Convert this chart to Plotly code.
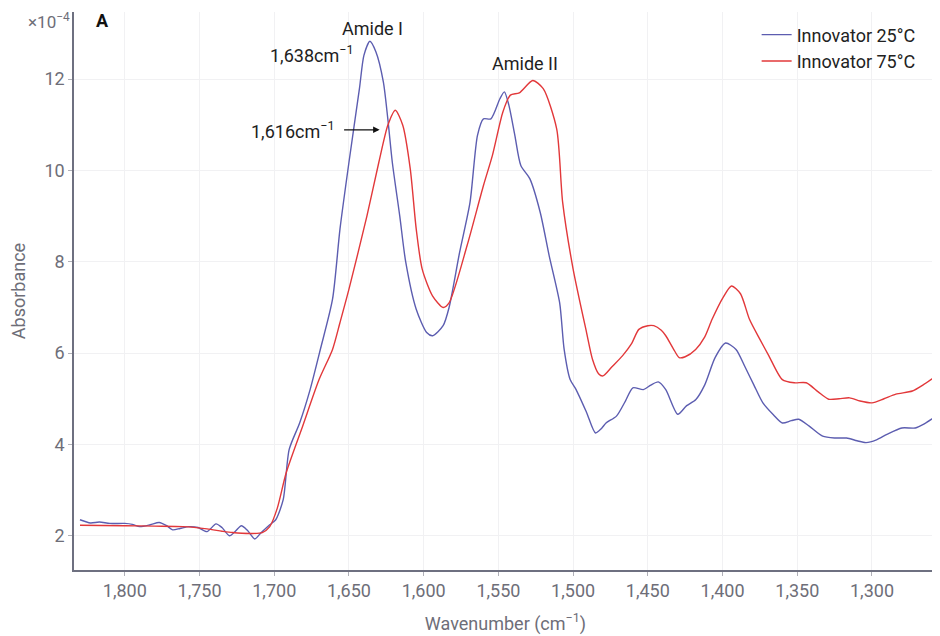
import plotly.graph_objects as go

# Wavenumber (cm^-1) and absorbance (x10^-4)
wn_25 = [1830, 1823, 1817, 1810, 1800, 1795, 1790, 1783, 1777, 1772, 1768, 1763, 1757, 1751, 1745,
         1739, 1735, 1730, 1726, 1722, 1718, 1713, 1709, 1703, 1699, 1694, 1690, 1683, 1676, 1669,
         1661, 1656, 1650, 1643, 1640, 1636, 1632, 1627, 1624, 1621, 1616, 1612, 1605, 1598, 1594,
         1587, 1583, 1576, 1569, 1564, 1560, 1555, 1549, 1546, 1543, 1539, 1535, 1529, 1522, 1516,
         1509, 1506, 1502, 1498, 1491, 1485, 1481, 1478, 1471, 1465, 1460, 1453, 1448, 1443, 1438,
         1430, 1424, 1418, 1412, 1405, 1398, 1391, 1385, 1379, 1373, 1366, 1360, 1354, 1349, 1342,
         1333, 1325, 1317, 1310, 1304, 1297, 1290, 1280, 1271, 1265, 1258]
abs_25 = [2.35, 2.28, 2.30, 2.27, 2.27, 2.25, 2.20, 2.24, 2.29, 2.22, 2.13, 2.16, 2.20, 2.18, 2.09,
          2.26, 2.18, 2.00, 2.10, 2.22, 2.12, 1.93, 2.06, 2.24, 2.35, 2.79, 3.89, 4.47, 5.20, 6.10,
          7.18, 8.72, 10.18, 11.79, 12.52, 12.83, 12.60, 11.94, 11.13, 10.18, 9.00, 7.99, 6.96, 6.45, 6.38,
          6.60, 7.00, 8.20, 9.30, 10.77, 11.13, 11.13, 11.57, 11.72, 11.43, 10.77, 10.11, 9.82, 9.08, 8.13,
          7.10, 6.08, 5.42, 5.20, 4.70, 4.25, 4.35, 4.47, 4.62, 4.95, 5.24, 5.20, 5.30, 5.37, 5.20,
          4.66, 4.85, 4.98, 5.30, 5.90, 6.22, 6.08, 5.70, 5.30, 4.91, 4.65, 4.47, 4.52, 4.55, 4.40,
          4.18, 4.14, 4.14, 4.08, 4.04, 4.10, 4.22, 4.36, 4.36, 4.45, 4.60]

wn_75 = [1830, 1800, 1780, 1761, 1745, 1735, 1728, 1715, 1708, 1703, 1698, 1692, 1681, 1670, 1661,
         1656, 1650, 1638, 1630, 1624, 1619, 1614, 1609, 1605, 1601, 1594, 1587, 1583, 1571, 1560,
         1554, 1547, 1542, 1536, 1527, 1520, 1511, 1507, 1500, 1491, 1487, 1483, 1480, 1474, 1467,
         1461, 1456, 1450, 1446, 1441, 1438, 1433, 1429, 1425, 1418, 1412, 1407, 1400, 1394, 1388,
         1382, 1375, 1369, 1360, 1352, 1344, 1336, 1329, 1322, 1315, 1308, 1300, 1292, 1284, 1273,
         1266, 1258]
abs_75 = [2.23, 2.22, 2.21, 2.20, 2.15, 2.10, 2.07, 2.05, 2.07, 2.20, 2.60, 3.38, 4.40, 5.42, 6.08,
          6.67, 7.40, 9.00, 10.18, 10.99, 11.32, 10.99, 10.04, 8.72, 7.84, 7.25, 7.00, 7.10, 8.35, 9.67,
          10.33, 11.28, 11.65, 11.70, 11.97, 11.79, 10.91, 9.30, 7.84, 6.45, 5.86, 5.55, 5.50, 5.70, 5.94,
          6.20, 6.52, 6.60, 6.60, 6.50, 6.38, 6.10, 5.90, 5.92, 6.08, 6.35, 6.74, 7.20, 7.47, 7.30,
          6.74, 6.30, 5.94, 5.42, 5.35, 5.35, 5.15, 4.99, 5.00, 5.02, 4.95, 4.91, 5.00, 5.10, 5.17,
          5.30, 5.48]

x_ticks = [1800, 1750, 1700, 1650, 1600, 1550, 1500, 1450, 1400, 1350, 1300]
x_tick_labels = ["1,800", "1,750", "1,700", "1,650", "1,600", "1,550", "1,500", "1,450", "1,400", "1,350", "1,300"]
y_ticks = [2, 4, 6, 8, 10, 12]

FONT = "Roboto"
GRAY = "#6e6e78"
FS = 18

fig = go.Figure()
fig.add_trace(go.Scatter(x=wn_25, y=abs_25, mode="lines", name="Innovator 25°C",
                         line=dict(color="#5c5db0", width=1.4, shape="spline", smoothing=0.7)))
fig.add_trace(go.Scatter(x=wn_75, y=abs_75, mode="lines", name="Innovator 75°C",
                         line=dict(color="#e2383a", width=1.4, shape="spline", smoothing=0.7)))

fig.update_layout(
    width=932, height=628,
    margin=dict(l=66, r=3, t=4, b=66),
    paper_bgcolor="white", plot_bgcolor="white",
    font=dict(family=FONT, size=FS, color=GRAY),
    showlegend=True,
    legend=dict(x=0.791, y=0.992, xanchor="left", yanchor="top",
                font=dict(family=FONT, size=FS, color="#222222"),
                bgcolor="rgba(0,0,0,0)", itemwidth=30, tracegroupgap=0),
    xaxis=dict(range=[1834, 1256.5], tickvals=x_ticks, ticktext=x_tick_labels,
               showgrid=True, gridcolor="#f1f1f3", gridwidth=1,
               showline=True, linecolor="#6e7080", linewidth=1.5,
               ticks="outside", ticklen=4, tickcolor="#b0b0b8",
               tickfont=dict(family=FONT, size=FS, color=GRAY),
               zeroline=False, automargin=False,
               title=dict(text="Wavenumber (cm<sup>−1</sup>)", standoff=17,
                          font=dict(family=FONT, size=FS, color=GRAY))),
    yaxis=dict(range=[1.25, 13.47], tickvals=y_ticks,
               showgrid=True, gridcolor="#f1f1f3", gridwidth=1,
               showline=True, linecolor="#6e7080", linewidth=1.5,
               ticks="outside", ticklen=4, tickcolor="#b0b0b8",
               tickfont=dict(family=FONT, size=FS, color=GRAY),
               zeroline=False, automargin=False,
               title=dict(text="Absorbance", standoff=16,
                          font=dict(family=FONT, size=FS, color=GRAY))),
)

ann_font = dict(family=FONT, size=FS, color="#1e1e1e")
fig.add_annotation(x=1634.5, y=13.1, text="Amide I", showarrow=False, font=ann_font,
                   xanchor="center", yanchor="middle")
fig.add_annotation(x=1645, y=12.55, text="1,638cm<sup>−1</sup>", showarrow=False, font=ann_font,
                   xanchor="right", yanchor="middle")
fig.add_annotation(x=1532, y=12.35, text="Amide II", showarrow=False, font=ann_font,
                   xanchor="center", yanchor="middle")
fig.add_annotation(x=1658, y=10.88, text="1,616cm<sup>−1</sup>", showarrow=False, font=ann_font,
                   xanchor="right", yanchor="middle")
fig.add_annotation(x=1629.5, y=10.89, ax=-37, ay=0, text="", showarrow=True,
                   arrowhead=2, arrowsize=1, arrowwidth=1.3, arrowcolor="#111111")
fig.add_annotation(x=0.023, y=1.0, xref="paper", yref="paper", text="<b>A</b>", showarrow=False,
                   font=dict(family=FONT, size=FS, color="#111111"), xanchor="left", yanchor="top",
                   yshift=4)
fig.add_annotation(x=0, y=1.0, xref="paper", yref="paper", text="×10<sup>−4</sup>", showarrow=False,
                   font=dict(family=FONT, size=FS - 1, color=GRAY), xanchor="right", yanchor="top",
                   xshift=-2, yshift=4)

fig.write_html("out.html")
